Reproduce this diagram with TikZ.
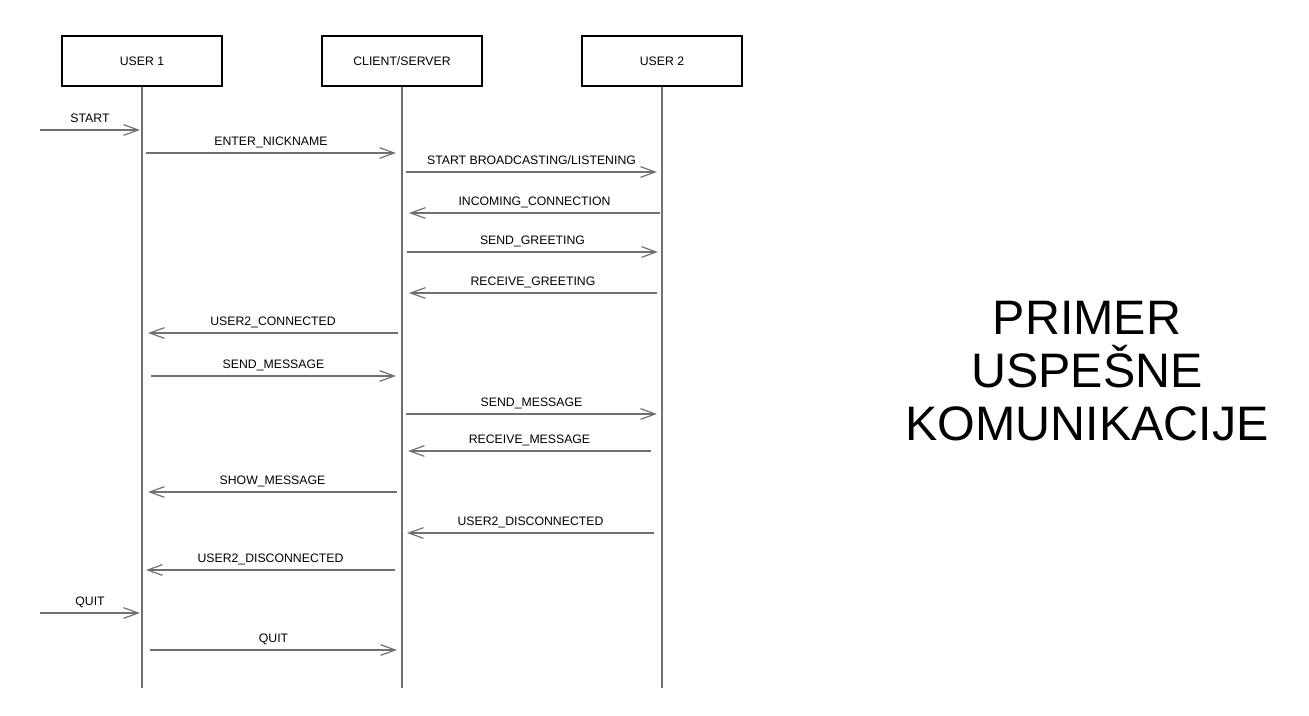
\documentclass[tikz,border=0pt]{standalone}
\usepackage{fontspec}
\setmainfont{Liberation Sans}
\usetikzlibrary{arrows.meta, positioning}
\definecolor{linegray}{HTML}{707070}
\tikzset{
    actor/.style={draw=black, line width=1.4pt, minimum width=120pt,
        minimum height=37.5pt, inner sep=0pt, font=\fontsize{9.2}{11}\selectfont},
    lifeline/.style={draw=linegray, line width=1.2pt},
    msg/.style={draw=linegray, line width=1pt,
        -{Straight Barb[length=11pt, width=8pt, line width=0.9pt]}},
    msglabel/.style={above=5pt, inner sep=0pt, text depth=0pt,
        font=\fontsize{9.2}{11}\selectfont},
}

\begin{document}
\begin{tikzpicture}[x=0.75pt, y=-0.75pt]
        \useasboundingbox (0, 0) rectangle (1309, 715);
        \node[actor] (user1) at (142, 61) {USER 1}; % Left actor
        \node[actor] (server) at (402, 61) {CLIENT/SERVER}; % Middle actor
        \node[actor] (user2) at (662, 61) {USER 2}; % Right actor
        \foreach \a in {user1, server, user2}{
            \coordinate (\a end) at (\a.south |- 0, 688);
            \draw[lifeline] (\a.south) -- (\a end); % Lifeline
        }
        \foreach \i/\y/\xa/\xb/\txt in {
            1/130/40/140/START,
            2/153/146/396/ENTER\_NICKNAME,
            3/172/406/657/{START BROADCASTING/LISTENING},
            4/213/660/409/INCOMING\_CONNECTION,
            5/252/407/658/SEND\_GREETING,
            6/293/657/409/RECEIVE\_GREETING,
            7/333/398/148/USER2\_CONNECTED,
            8/376/151/396/SEND\_MESSAGE,
            9/414/406/657/SEND\_MESSAGE,
            10/451/651/408/RECEIVE\_MESSAGE,
            11/492/397/148/SHOW\_MESSAGE,
            12/533/654/407/USER2\_DISCONNECTED,
            13/570/395/146/USER2\_DISCONNECTED,
            14/613/40/140/QUIT,
            15/650/150/397/QUIT}{
            \coordinate (m\i from) at (\xa, \y);
            \coordinate (m\i to) at (\xb, \y);
            \draw[msg] (m\i from) -- (m\i to)
                node[midway, msglabel] (l\i) {\txt}; % Message
        }
        \node[align=center, font=\fontsize{36.3}{39.5}\selectfont] (title)
            at (1087, 371) {PRIMER\\USPEŠNE\\KOMUNIKACIJE}; % Title
    \end{tikzpicture}
\end{document}
